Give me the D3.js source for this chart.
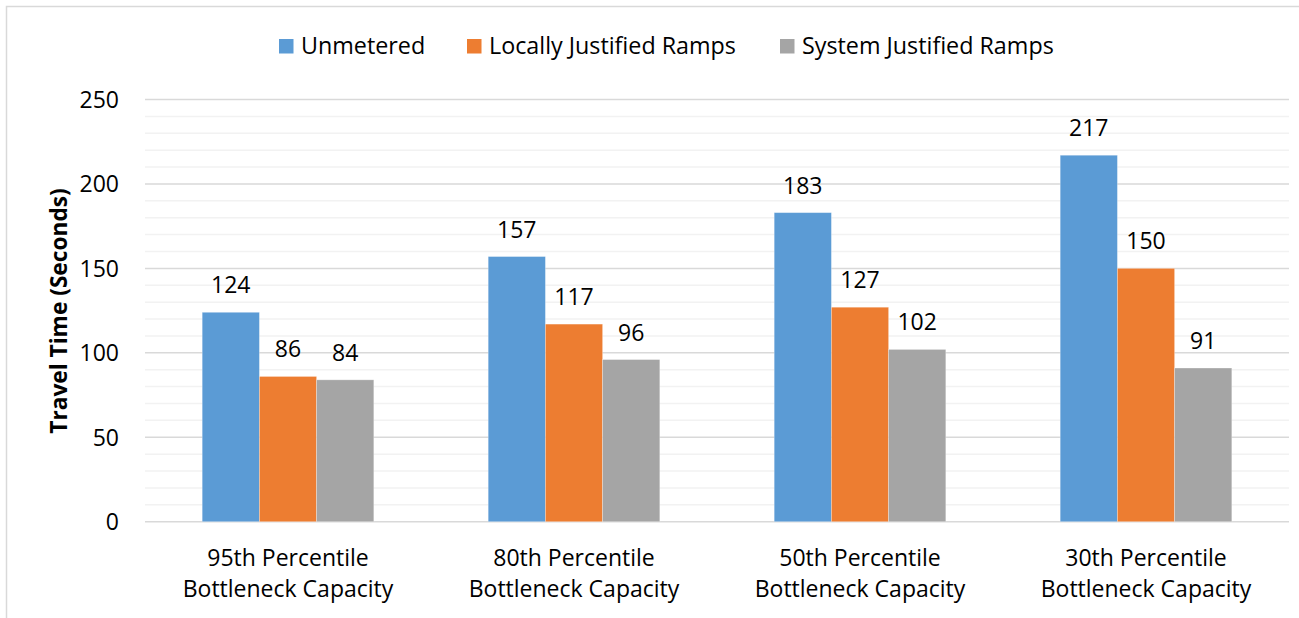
<!DOCTYPE html>
<html>
<head>
<meta charset="utf-8">
<script src="https://cdn.jsdelivr.net/npm/d3@7"></script>
<style>
  html, body { margin: 0; padding: 0; background: #fff; }
  svg { display: block; }
  text { font-family: "Open Sans", sans-serif; fill: #000; }
</style>
</head>
<body>
<svg id="chart" width="1299" height="618"></svg>
<script>
const categories = [
  ["95th Percentile", "Bottleneck Capacity"],
  ["80th Percentile", "Bottleneck Capacity"],
  ["50th Percentile", "Bottleneck Capacity"],
  ["30th Percentile", "Bottleneck Capacity"]
];
const seriesNames = ["Unmetered", "Locally Justified Ramps", "System Justified Ramps"];
const unmetered = [124, 157, 183, 217];
const locallyJustified = [86, 117, 127, 150];
const systemJustified = [84, 96, 102, 91];
const yTicks = [0, 50, 100, 150, 200, 250];
const colors = ["#5b9bd5", "#ed7d31", "#a5a5a5"];
const yTitle = "Travel Time (Seconds)";

const seriesValues = [unmetered, locallyJustified, systemJustified];

const svg = d3.select("#chart");
const W = 1299, H = 618;
const plot = { left: 145, right: 1289, top: 99.5, bottom: 521.7 };

// outer border
svg.append("rect").attr("x", 6.5).attr("y", 6.5).attr("width", W + 10).attr("height", H + 10)
  .attr("fill", "none").attr("stroke", "#d9d9d9").attr("stroke-width", 1.5);

const y = d3.scaleLinear().domain([0, 250]).range([plot.bottom, plot.top]);
const x0 = d3.scaleBand().domain(d3.range(categories.length)).range([plot.left, plot.right]).paddingInner(0).paddingOuter(0);
const barW = x0.bandwidth() * 0.6 / 3;
const x1 = d3.scaleBand().domain(d3.range(seriesNames.length))
  .range([0, barW * 3]).padding(0);
const groupOffset = (x0.bandwidth() - barW * 3) / 2;

// minor gridlines
const minor = d3.range(10, 250, 10).filter(v => v % 50 !== 0);
svg.append("g").selectAll("line").data(minor).join("line")
  .attr("x1", plot.left).attr("x2", plot.right)
  .attr("y1", d => y(d)).attr("y2", d => y(d))
  .attr("stroke", "#f2f2f2").attr("stroke-width", 1.5);

// major gridlines
svg.append("g").selectAll("line").data(yTicks).join("line")
  .attr("x1", plot.left).attr("x2", plot.right)
  .attr("y1", d => y(d)).attr("y2", d => y(d))
  .attr("stroke", "#d9d9d9").attr("stroke-width", 1.5);

// y axis tick labels
const yAxis = d3.axisLeft(y).tickValues(yTicks).tickSize(0).tickPadding(0);
const yg = svg.append("g").attr("transform", `translate(${119},0)`).call(yAxis);
yg.select(".domain").remove();
yg.selectAll("text").attr("font-family", "Open Sans, sans-serif").attr("font-size", 23)
  .attr("fill", "#000").attr("dy", "0.34em");

// y title
svg.append("text")
  .attr("transform", `translate(66.5,${311}) rotate(-90)`)
  .attr("text-anchor", "middle")
  .attr("font-size", 22.7).attr("font-weight", "bold")
  .text(yTitle);

// bars
seriesValues.forEach((vals, si) => {
  const g = svg.append("g");
  g.selectAll("rect").data(vals).join("rect")
    .attr("x", (d, i) => x0(i) + groupOffset + x1(si))
    .attr("y", d => y(d))
    .attr("width", x1.bandwidth())
    .attr("height", d => y(0) - y(d))
    .attr("fill", colors[si])
    .attr("stroke", "#ffffff").attr("stroke-opacity", 0.35).attr("stroke-width", 0.8);
  g.selectAll("text").data(vals).join("text")
    .attr("x", (d, i) => x0(i) + groupOffset + x1(si) + x1.bandwidth() / 2)
    .attr("y", d => y(d) - 19)
    .attr("text-anchor", "middle")
    .attr("font-size", 23)
    .text(d => d);
});

// category labels
const cg = svg.append("g");
categories.forEach((lines, i) => {
  const t = cg.append("text")
    .attr("x", x0(i) + x0.bandwidth() / 2)
    .attr("y", 565.7)
    .attr("text-anchor", "middle")
    .attr("font-size", 23);
  lines.forEach((ln, j) => {
    t.append("tspan").attr("x", x0(i) + x0.bandwidth() / 2).attr("y", 565.7 + j * 31).text(ln);
  });
});

// legend
const legendX = [279, 467, 780];
const lg = svg.append("g");
seriesNames.forEach((name, i) => {
  lg.append("rect").attr("x", legendX[i]).attr("y", 39).attr("width", 14.5).attr("height", 14.5)
    .attr("fill", colors[i]);
  lg.append("text").attr("x", legendX[i] + 22).attr("y", 54)
    .attr("font-size", 23.3).text(name);
});
</script>
</body>
</html>
